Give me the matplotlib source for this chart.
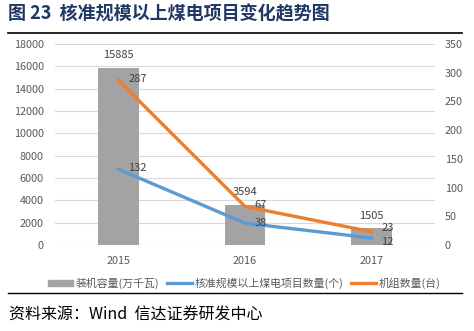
import matplotlib
matplotlib.use("Agg")
import matplotlib.pyplot as plt
from matplotlib.lines import Line2D
from matplotlib.patches import Patch

plt.rcParams['font.family'] = ['Noto Sans CJK SC', 'DejaVu Sans']

years = ['2015', '2016', '2017']
capacity = [15885, 3594, 1505]
projects = [132, 38, 12]
units = [287, 67, 23]

fig = plt.figure(figsize=(4.74, 3.31), dpi=100)
ax = fig.add_axes([55 / 474, 0.26, 380 / 474, 0.607])
ax2 = ax.twinx()

x = list(range(len(years)))
ax.bar(x, capacity, width=0.32, color='#a3a3a3', zorder=2)
ax.set_ylim(0, 18000)
ax.set_yticks(range(0, 18001, 2000))
ax.set_xlim(-0.5, 2.5)
ax.set_xticks(x)
ax.set_xticklabels(years)
ax.grid(axis='y', color='#d9d9d9', linewidth=0.8, zorder=0)
ax.set_axisbelow(True)
for sp in ax.spines.values():
    sp.set_visible(False)
for sp in ax2.spines.values():
    sp.set_visible(False)
ax.tick_params(axis='y', length=0, labelsize=7.8, colors='#595959', pad=8)
ax.tick_params(axis='x', length=0, labelsize=7.8, colors='#595959', pad=8)

ax2.plot(x, projects, color='#5b9bd5', linewidth=2.4, zorder=3)
ax2.plot(x, units, color='#ed7d31', linewidth=2.4, zorder=4)
ax2.set_ylim(0, 350)
ax2.set_yticks(range(0, 351, 50))
ax2.tick_params(axis='y', length=0, labelsize=7.8, colors='#595959', pad=7)

for i, v in enumerate(capacity):
    ax.annotate(str(v), (i, v), xytext=(0, 9), textcoords='offset points',
                ha='center', va='center', fontsize=8, color='#404040')
unit_dy = [1, 1, 3]
for i, v in enumerate(units):
    ax2.annotate(str(v), (i, v), xytext=(7, unit_dy[i]), textcoords='offset points',
                 ha='left', va='center', fontsize=8, color='#404040')
proj_dy = [1, 0, -3]
for i, v in enumerate(projects):
    ax2.annotate(str(v), (i, v), xytext=(7, proj_dy[i]), textcoords='offset points',
                 ha='left', va='center', fontsize=8, color='#404040')

handles = [Patch(color='#a3a3a3'),
           Line2D([], [], color='#5b9bd5', linewidth=2.4),
           Line2D([], [], color='#ed7d31', linewidth=2.4)]
labels = ['装机容量(万千瓦)', '核准规模以上煤电项目数量(个)', '机组数量(台)']
fig.legend(handles, labels, loc='center', bbox_to_anchor=(0.515, 0.145), ncol=3,
           frameon=False, fontsize=7.8, labelcolor='#595959', handlelength=2.3,
           handleheight=0.45, handletextpad=0.25, columnspacing=0.7)

fig.text(0.017, 0.958, '图 23  核准规模以上煤电项目变化趋势图', fontsize=13,
         fontweight='bold', color='#1f3864', ha='left', va='center')
fig.add_artist(Line2D([0.017, 0.975], [0.9, 0.9], color='black', linewidth=1.2,
                      transform=fig.transFigure))
fig.add_artist(Line2D([0.017, 0.975], [0.115, 0.115], color='black', linewidth=1.0,
                      transform=fig.transFigure))
fig.text(0.02, 0.048, '资料来源：Wind  信达证券研发中心', fontsize=11.5,
         style='italic', color='black', ha='left', va='center')

fig.savefig('out.png', dpi=100)
